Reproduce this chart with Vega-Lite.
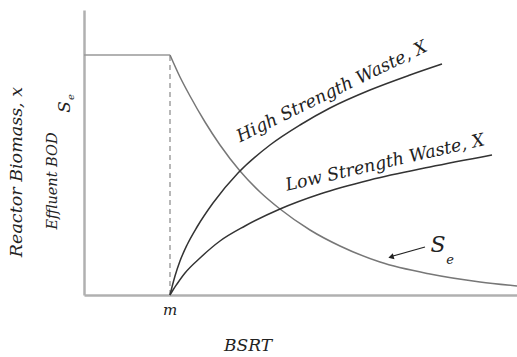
{
  "$schema": "https://vega.github.io/schema/vega-lite/v6.json",
  "width": 433,
  "height": 285,
  "autosize": "none",
  "padding": {"left": 84, "top": 10, "right": 0, "bottom": 62},
  "background": "white",
  "config": {"view": {"stroke": null}},
  "datasets": {
    "curves": [
      {"s": "SeFlat", "x": 0, "y": 240},
      {"s": "SeFlat", "x": 86, "y": 240},
      {"s": "Se", "x": 86, "y": 240},
      {"s": "Se", "x": 96, "y": 218},
      {"s": "Se", "x": 106, "y": 199},
      {"s": "Se", "x": 121, "y": 173},
      {"s": "Se", "x": 136, "y": 150},
      {"s": "Se", "x": 156, "y": 124},
      {"s": "Se", "x": 176, "y": 103},
      {"s": "Se", "x": 196, "y": 86},
      {"s": "Se", "x": 226, "y": 65},
      {"s": "Se", "x": 256, "y": 49},
      {"s": "Se", "x": 296, "y": 33},
      {"s": "Se", "x": 346, "y": 21},
      {"s": "Se", "x": 396, "y": 13},
      {"s": "Se", "x": 433, "y": 9},
      {"s": "High", "x": 86, "y": 0},
      {"s": "High", "x": 88, "y": 8},
      {"s": "High", "x": 91, "y": 19},
      {"s": "High", "x": 96, "y": 34},
      {"s": "High", "x": 103, "y": 50},
      {"s": "High", "x": 113, "y": 68},
      {"s": "High", "x": 129, "y": 92},
      {"s": "High", "x": 154, "y": 122},
      {"s": "High", "x": 186, "y": 150},
      {"s": "High", "x": 216, "y": 170},
      {"s": "High", "x": 246, "y": 187},
      {"s": "High", "x": 286, "y": 205},
      {"s": "High", "x": 326, "y": 220},
      {"s": "High", "x": 358, "y": 231},
      {"s": "Low", "x": 86, "y": 0},
      {"s": "Low", "x": 89, "y": 5},
      {"s": "Low", "x": 93, "y": 11},
      {"s": "Low", "x": 101, "y": 22},
      {"s": "Low", "x": 116, "y": 37},
      {"s": "Low", "x": 136, "y": 54},
      {"s": "Low", "x": 161, "y": 69},
      {"s": "Low", "x": 196, "y": 86},
      {"s": "Low", "x": 236, "y": 101},
      {"s": "Low", "x": 286, "y": 115},
      {"s": "Low", "x": 346, "y": 128},
      {"s": "Low", "x": 408, "y": 140}
    ],
    "dashed": [{"x": 86, "y": 0}, {"x": 86, "y": 240}],
    "arrow": [{"x": 341, "y": 48, "x2": 309, "y2": 39}],
    "arrowHead": [{"x": 307, "y": 38}],
    "labels": [
      {"t": "High Strength Waste, X", "x": 248, "y": 203, "a": -26, "sz": 17.5},
      {"t": "Low Strength Waste, X", "x": 301, "y": 132, "a": -13, "sz": 17.5},
      {"t": "S", "x": 354, "y": 50, "a": 0, "sz": 22},
      {"t": "e", "x": 366, "y": 35, "a": 0, "sz": 13},
      {"t": "m", "x": 86, "y": -15, "a": 0, "sz": 15},
      {"t": "BSRT", "x": 164, "y": -51, "a": 0, "sz": 17},
      {"t": "Reactor Biomass, x", "x": -67, "y": 123, "a": 270, "sz": 17.5},
      {"t": "Effluent BOD", "x": -31, "y": 114, "a": 270, "sz": 14.5},
      {"t": "S", "x": -19, "y": 188, "a": 270, "sz": 17},
      {"t": "e", "x": -13, "y": 198, "a": 270, "sz": 10}
    ]
  },
  "encoding": {
    "x": {"field": "x", "type": "quantitative", "scale": {"domain": [0, 433], "nice": false, "zero": false},
      "axis": {"title": null, "labels": false, "ticks": false, "grid": false, "domainColor": "#b0b0b0", "domainWidth": 2.5}},
    "y": {"field": "y", "type": "quantitative", "scale": {"domain": [0, 285], "nice": false, "zero": false},
      "axis": {"title": null, "labels": false, "ticks": false, "grid": false, "domainColor": "#b0b0b0", "domainWidth": 2.5}}
  },
  "layer": [
    {
      "data": {"name": "dashed"},
      "mark": {"type": "line", "strokeDash": [5, 4], "color": "#888", "strokeWidth": 1.2},
      "encoding": {}
    },
    {
      "data": {"name": "curves"},
      "transform": [{"filter": "datum.s === 'SeFlat'"}],
      "mark": {"type": "line", "color": "#999", "strokeWidth": 1.5},
      "encoding": {}
    },
    {
      "data": {"name": "curves"},
      "transform": [{"filter": "datum.s !== 'SeFlat'"}],
      "mark": {"type": "line", "interpolate": "monotone", "strokeWidth": 1.5},
      "encoding": {
        "detail": {"field": "s"},
        "color": {"field": "s", "type": "nominal", "legend": null,
          "scale": {"domain": ["Se", "High", "Low"], "range": ["#777", "#333", "#333"]}}
      }
    },
    {
      "data": {"name": "arrow"},
      "mark": {"type": "rule", "color": "#222", "strokeWidth": 1.2},
      "encoding": {"x2": {"field": "x2"}, "y2": {"field": "y2"}}
    },
    {
      "data": {"name": "arrowHead"},
      "mark": {"type": "point", "shape": "triangle-left", "filled": true, "color": "#222", "size": 40, "angle": -15, "opacity": 1},
      "encoding": {}
    },
    {
      "data": {"name": "labels"},
      "mark": {"type": "text", "font": "DejaVu Serif", "fontStyle": "italic", "color": "#222", "baseline": "middle", "align": "center"},
      "encoding": {
        "text": {"field": "t"},
        "angle": {"field": "a", "type": "quantitative", "scale": null},
        "size": {"field": "sz", "type": "quantitative", "scale": null}
      }
    }
  ]
}
